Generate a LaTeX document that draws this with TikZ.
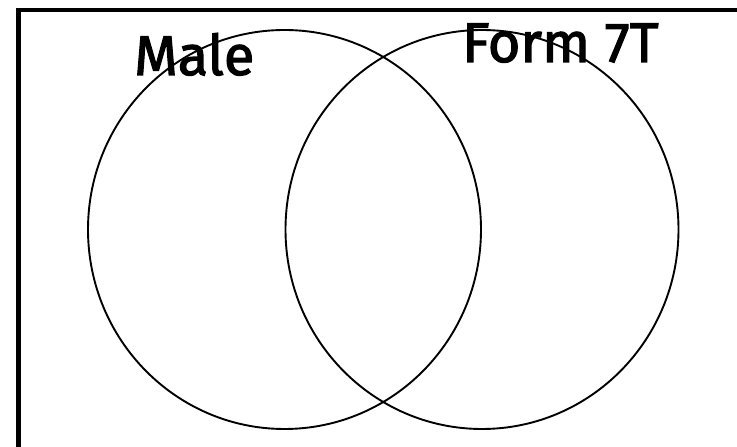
\documentclass[tikz,border=0pt]{standalone}
\usepackage{fontspec}
\setmainfont{Fira Sans}
\newfontfamily\labelfont{Fira Sans}[FakeBold=2]
\usetikzlibrary{shapes.geometric}
\tikzset{
  setring/.style={draw=black, line width=1.9pt, ellipse, inner sep=0pt,
    minimum width=393pt, minimum height=399pt},
  setlabel/.style={anchor=base west, inner sep=0pt, font=\labelfont\fontsize{56}{60}\selectfont},
  frameline/.style={draw=black, line width=4.8pt}
}
\begin{document}
\begin{tikzpicture}[x=1pt,y=1pt]
  \useasboundingbox (0,0) rectangle (737,447);
  \fill[white] (0,0) rectangle (737,447);
  \coordinate (fb) at (18.5,-5);
  \coordinate (fc) at (18.5,437);
  \coordinate (fr) at (745,437);
  \draw[frameline] (fb) -- (fc) -- (fr);
  \node[setring] (male) at (284.5,217.5) {};
  \node[setring] (form) at (482,217.5) {};
  \node[setlabel] (malelabel) at (134,372) {Male};
  \node[setlabel] (formlabel) at (462,385) {Form 7T};
\end{tikzpicture}
\end{document}
